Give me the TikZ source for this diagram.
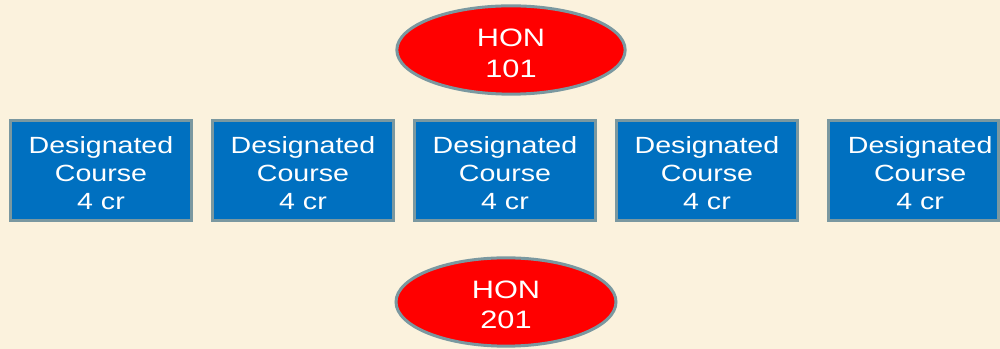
\documentclass[tikz,border=0pt]{standalone}
\usepackage{fontspec}
\setmainfont{Liberation Sans}
\newfontfamily\widesans[FakeStretch=1.22]{Liberation Sans}
\usetikzlibrary{shapes.geometric}
\definecolor{parch}{RGB}{251,242,221}
\definecolor{boxblue}{RGB}{0,112,192}
\definecolor{edgegray}{RGB}{122,152,160}
% lower the ink of a text line without changing its box
\newcommand{\lowline}[2][0.06cm]{\raisebox{-#1}[\height][\depth]{#2}}
\tikzset{
  course/.style={draw=edgegray, line width=0.09cm, fill=boxblue, text=white,
    minimum width=5.45cm, minimum height=3.0cm, inner sep=0pt, align=center,
    font=\widesans\fontsize{20}{24.2}\selectfont},
  honors/.style={ellipse, draw=edgegray, line width=0.09cm, fill=red, text=white,
    minimum width=6.85cm, minimum height=2.65cm, inner sep=0pt, align=center,
    font=\widesans\fontsize{21.5}{25.5}\selectfont}
}
\newcommand{\coursetext}{\lowline{Designated}\\\lowline{Course}\\\lowline{4 cr}}
\begin{document}
\begin{tikzpicture}[x=0.03cm,y=-0.03cm]
  \fill[parch] (0,0) rectangle (1000,349);
  \useasboundingbox (0,0) rectangle (1000,349);
  \begin{scope}
    \clip (0,0) rectangle (1000,349);
    \node[honors] (hon101) at (511,50) {\lowline[0.1cm]{HON}\\[0.06cm]\lowline[0.1cm]{101}};
    \node[course] (c1) at (101,171) {\coursetext};
    \node[course] (c2) at (303,171) {\coursetext};
    \node[course] (c3) at (505,171) {\coursetext};
    \node[course] (c4) at (707,171) {\coursetext};
    \node[course, minimum width=5.1cm, text width=5.0cm] (c5) at (913.5,171)
      {\hspace*{0.4cm}\lowline{Designated}\\\hspace*{0.4cm}\lowline{Course}\\\hspace*{0.4cm}\lowline{4 cr}};
    \node[honors, minimum width=6.6cm] (hon201) at (506,302) {\lowline[0.09cm]{HON}\\\lowline[0.09cm]{201}};
  \end{scope}
\end{tikzpicture}
\end{document}
